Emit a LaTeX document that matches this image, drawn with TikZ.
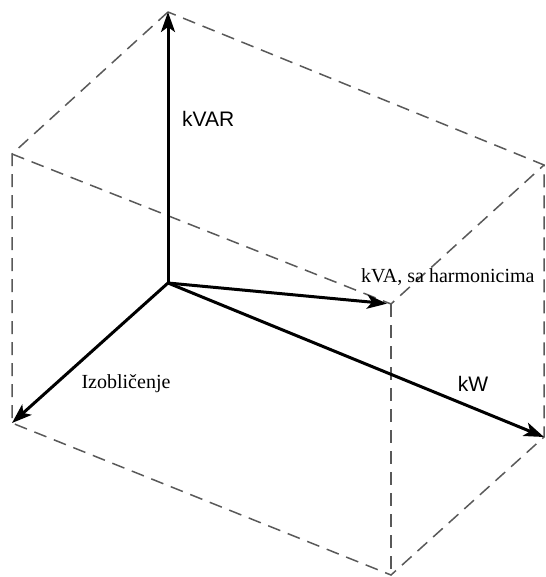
\documentclass[tikz,border=0pt]{standalone}
\usepackage{fontspec}
\setmainfont{Liberation Serif}
\setsansfont{Liberation Sans}
\usetikzlibrary{arrows.meta}
\begin{document}
\begin{tikzpicture}[x=0.5pt,y=-0.5pt,
    vec/.style={line width=1.5pt,-{Stealth[length=10pt,width=7pt,inset=2.5pt]}},
    boxedge/.style={dash pattern=on 6.5pt off 4pt,line width=0.75pt,black!65}]
      \useasboundingbox (0,0) rectangle (545,577);
      \coordinate (o) at (168,283);
      \coordinate (t) at (168,12);
      \coordinate (l) at (12,154);
      \coordinate (r) at (544,165);
      \coordinate (f) at (391,304);
      \coordinate (lb) at (12,423);
      \coordinate (fb) at (391,575);
      \coordinate (rb) at (544,437);
      \draw[boxedge] (t) -- (l) -- (lb) -- (fb) -- (rb) -- (r) -- cycle;
      \draw[boxedge] (l) -- (f) -- (r);
      \draw[boxedge] (f) -- (fb);
      \draw[vec] (o) -- (t);
      \draw[vec] (o) -- (lb);
      \draw[vec] (o) -- (rb);
      \draw[vec,shorten >=2pt] (o) -- (f);
      \node[font=\sffamily\fontsize{10.5}{12}\selectfont,anchor=west] (kvar) at (175,119) {kVAR};
      \node[font=\fontsize{10}{12}\selectfont,anchor=west] (kva) at (354,277) {kVA, sa harmonicima};
      \node[font=\fontsize{10}{12}\selectfont] (izob) at (126,384) {Izobličenje};
      \node[font=\sffamily\fontsize{10.5}{12}\selectfont] (kw) at (473,384) {kW};
\end{tikzpicture}
\end{document}
